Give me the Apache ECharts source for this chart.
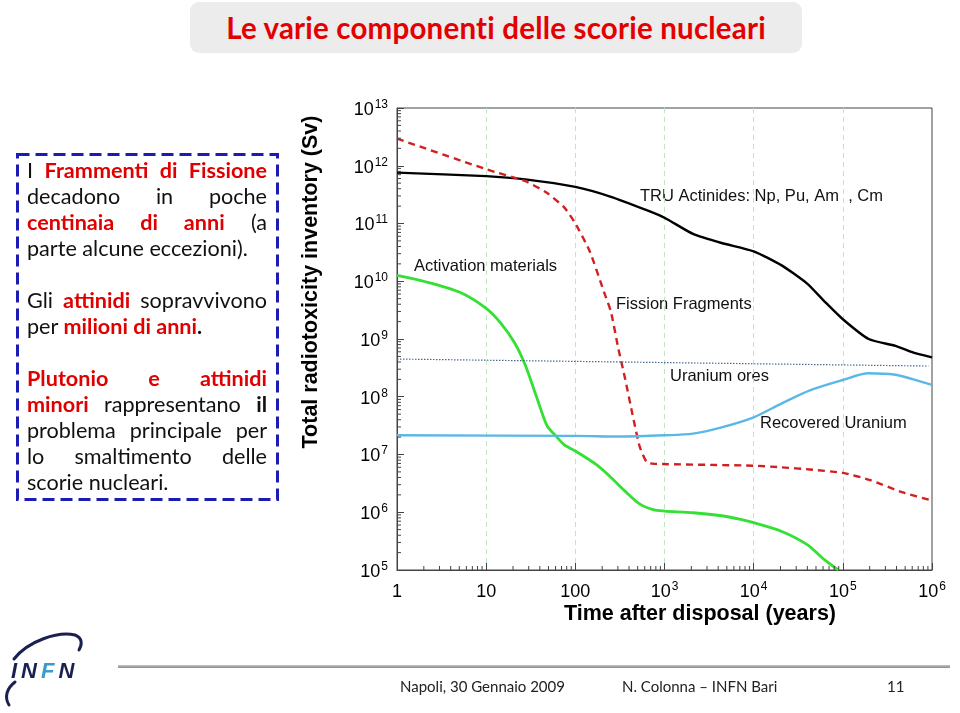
<!DOCTYPE html>
<html><head><meta charset="utf-8">
<script src="https://cdn.jsdelivr.net/npm/echarts@6/dist/echarts.min.js"></script>
<style>
html,body{margin:0;padding:0;background:#fff;width:960px;height:713px;overflow:hidden;}
#chart{position:absolute;left:0;top:0;width:960px;height:713px;}
.ov{position:absolute;font-family:Lato,"Open Sans",sans-serif;}
#title{left:190px;top:2px;width:612px;height:51px;background:#ececec;border-radius:9px;color:#e30000;font-weight:700;font-size:29.5px;line-height:51px;text-align:center;letter-spacing:0.2px;}
#boxframe{left:14px;top:151px;}
#box{left:16px;top:153px;width:262px;height:347px;box-sizing:border-box;padding:4px 11px 0 11px;font-size:21.6px;line-height:26px;color:#111;}
#box .j{text-align:justify;text-align-last:justify;white-space:nowrap;}
#box .l{text-align:left;white-space:nowrap;}
#box .gap{height:26px;}
.r{color:#e00000;font-weight:700;}
#fline{left:118px;top:665px;width:832px;height:3px;background:linear-gradient(#c4c4c4,#8a8a8a);}
.ft{top:676px;font-size:15px;line-height:20px;color:#222;}
#logo{left:0;top:625px;}
</style></head>
<body>
<div id="chart"></div>
<div class="ov" id="title">Le varie componenti delle scorie nucleari</div>
<svg class="ov" id="boxframe" width="268" height="353"><rect x="3.5" y="3.5" width="260" height="345" fill="none" stroke="#1c1cb4" stroke-width="3" stroke-dasharray="12 6"/></svg>
<div class="ov" id="box">
<div class="j">I <span class="r">Frammenti di Fissione</span></div>
<div class="j">decadono in poche</div>
<div class="j"><span class="r">centinaia di anni</span> (a</div>
<div class="l">parte alcune eccezioni).</div>
<div class="gap"></div>
<div class="j">Gli <span class="r">attinidi</span> sopravvivono</div>
<div class="l">per <span class="r">milioni di anni</span><b>.</b></div>
<div class="gap"></div>
<div class="j"><span class="r">Plutonio e attinidi</span></div>
<div class="j"><span class="r">minori</span> rappresentano <b>il</b></div>
<div class="j">problema principale per</div>
<div class="j">lo smaltimento delle</div>
<div class="l">scorie nucleari.</div>
</div>
<div class="ov" id="fline"></div>
<div class="ov ft" style="left:400px">Napoli, 30 Gennaio 2009</div>
<div class="ov ft" style="left:622px">N. Colonna – INFN Bari</div>
<div class="ov ft" style="left:887px">11</div>
<svg class="ov" id="logo" width="100" height="88" viewBox="0 0 100 88">
<path d="M14 34 C 28 16, 58 6, 75 10 C 83 13, 82 20, 79 25" fill="none" stroke="#1a2050" stroke-width="3" stroke-linecap="round"/>
<path d="M15 57 C 7 63, 4 72, 9 80" fill="none" stroke="#1a2050" stroke-width="3" stroke-linecap="round"/>
<text x="11" y="53" font-family="'Liberation Sans', Arial, sans-serif" font-style="italic" font-weight="700" font-size="22" fill="#1a2050" letter-spacing="4">IN<tspan fill="#3a9cc8">F</tspan>N</text>
</svg>
<script>
// ---- data (years, Sv) ----
const truYears = [1, 10, 27.5, 100, 251, 631, 1000, 2090, 4370, 1e4, 2.04e4, 3.98e4, 6.3e4, 1e5, 1.95e5, 3.9e5, 6.2e5, 1e6];
const truSv    = [7.6e11, 6.6e11, 5.8e11, 4.3e11, 2.9e11, 1.7e11, 1.26e11, 6.6e10, 4.6e10, 3.3e10, 1.9e10, 9.1e9, 4.4e9, 2.2e9, 1.0e9, 7.6e8, 5.8e8, 4.8e8];

const ffYears = [1, 10, 27.5, 47.9, 75.9, 100, 145, 209, 251, 302, 363, 437, 525, 631, 759, 1e4, 2.04e4, 4.27e4, 1e5, 2.04e5, 4.7e5, 1e6];
const ffSv    = [2.95e12, 8.7e11, 5.4e11, 3.4e11, 1.86e11, 1.0e11, 3.3e10, 6.6e9, 2.95e9, 7.1e8, 2.0e8, 5.0e7, 1.4e7, 7.4e6, 6.9e6, 6.4e6, 6.0e6, 5.5e6, 4.8e6, 3.6e6, 2.2e6, 1.6e6];

const actYears = [1, 2.09, 5, 10, 14.5, 20.9, 27.5, 36.3, 47.9, 60.3, 75.9, 100, 174, 251, 363, 525, 759, 1000, 2090, 4370, 6920, 1e4, 2.04e4, 3.98e4, 6.3e4, 8.9e4];
const actSv    = [1.26e10, 9.8e9, 6.5e9, 3.4e9, 1.9e9, 8.5e8, 3.5e8, 1.05e8, 3.2e7, 2.1e7, 1.45e7, 1.15e7, 6.6e6, 4.0e6, 2.3e6, 1.4e6, 1.1e6, 1.05e6, 9.8e5, 8.7e5, 7.6e5, 6.6e5, 4.7e5, 2.75e5, 1.48e5, 1.0e5];

const ruYears = [1, 100, 331, 1000, 2090, 4370, 1e4, 2.04e4, 4.27e4, 1e5, 1.95e5, 3.9e5, 6.2e5, 1e6];
const ruSv    = [2.15e7, 2.1e7, 2.05e7, 2.15e7, 2.3e7, 2.95e7, 4.4e7, 7.6e7, 1.29e8, 1.95e8, 2.55e8, 2.4e8, 2.0e8, 1.6e8];

const oreYears = [1, 9.1e5];
const oreSv    = [4.5e8, 3.4e8];

// tick labels: [base, superscript exponent]
const xTickLabels = [['1', ''], ['10', ''], ['100', ''], ['10', '3'], ['10', '4'], ['10', '5'], ['10', '6']];
const yTickExponents = ['5', '6', '7', '8', '9', '10', '11', '12', '13'];
const xDecades = [0, 1, 2, 3, 4, 5];
const yDecades = [5, 6, 7, 8, 9, 10, 11, 12];
const minorMultipliers = [2, 3, 4, 5, 6, 7, 8, 9];

const zip = (a, b) => a.map((v, i) => [v, b[i]]);
const xMinor = [], yMinor = [];
xDecades.forEach(d => minorMultipliers.forEach(m => xMinor.push([m * Math.pow(10, d), 1e5])));
yDecades.forEach(d => minorMultipliers.forEach(m => yMinor.push([1, m * Math.pow(10, d)])));

const axisFont = '"Liberation Sans", Arial, sans-serif';
const rich = {
  b: {fontSize: 18, fontFamily: axisFont, color: '#000', padding: [4, 0, 0, 0]},
  s: {fontSize: 12, fontFamily: axisFont, color: '#000', padding: [0, 0, 7, 1]}
};
const expOf = v => Math.round(Math.log10(v));
const fmtX = v => { const t = xTickLabels[expOf(v)]; return t[1] ? '{b|' + t[0] + '}{s|' + t[1] + '}' : '{b|' + t[0] + '}'; };
const fmtY = v => '{b|10}{s|' + yTickExponents[expOf(v) - 5] + '}';

const chart = echarts.init(document.getElementById('chart'), null, {renderer: 'canvas'});
chart.setOption({
  animation: false,
  grid: {left: 397, top: 108, right: 28, bottom: 143, show: true, borderColor: '#444', borderWidth: 1, backgroundColor: 'transparent'},
  xAxis: {
    type: 'log', logBase: 10, min: 1, max: 1e6,
    axisLine: {lineStyle: {color: '#444', width: 1}},
    axisTick: {inside: true, length: 7, lineStyle: {color: '#444'}},
    axisLabel: {margin: 9, formatter: fmtX, rich: rich},
    splitLine: {show: true, showMinLine: false, showMaxLine: false, lineStyle: {color: '#bfe6bf', type: [5, 4], width: 1}}
  },
  yAxis: {
    type: 'log', logBase: 10, min: 1e5, max: 1e13,
    axisLine: {lineStyle: {color: '#444', width: 1}},
    axisTick: {inside: true, length: 7, lineStyle: {color: '#444'}},
    axisLabel: {margin: 9, formatter: fmtY, rich: rich},
    splitLine: {show: false}
  },
  series: [
    {name: 'TRU Actinides', type: 'line', data: zip(truYears, truSv), showSymbol: false, smooth: 0.2,
     lineStyle: {color: '#000', width: 2.4}},
    {name: 'Fission Fragments', type: 'line', data: zip(ffYears, ffSv), showSymbol: false, smooth: 0.2,
     lineStyle: {color: '#d02020', width: 2.4, type: [7, 5]}},
    {name: 'Activation materials', type: 'line', data: zip(actYears, actSv), showSymbol: false, smooth: 0.25,
     lineStyle: {color: '#33e033', width: 2.8}},
    {name: 'Recovered Uranium', type: 'line', data: zip(ruYears, ruSv), showSymbol: false, smooth: 0.3,
     lineStyle: {color: '#5ab8e6', width: 2.4}},
    {name: 'Uranium ores', type: 'line', data: zip(oreYears, oreSv), showSymbol: false,
     lineStyle: {color: '#4a6890', width: 1.2, type: [1.5, 1.5]}},
    {type: 'custom', data: xMinor, clip: false, silent: true, z: 5,
     renderItem: (params, api) => {
       const p = api.coord([api.value(0), api.value(1)]);
       return {type: 'line', shape: {x1: p[0], y1: p[1], x2: p[0], y2: p[1] - 4}, style: {stroke: '#444', lineWidth: 1}};
     }},
    {type: 'custom', data: yMinor, clip: false, silent: true, z: 5,
     renderItem: (params, api) => {
       const p = api.coord([api.value(0), api.value(1)]);
       return {type: 'line', shape: {x1: p[0], y1: p[1], x2: p[0] + 4, y2: p[1]}, style: {stroke: '#444', lineWidth: 1}};
     }}
  ],
  graphic: [
    {type: 'text', x: 311, y: 282, rotation: Math.PI / 2, style: {text: 'Total radiotoxicity inventory (Sv)', font: 'bold 21.5px ' + axisFont, fill: '#000', textAlign: 'center', textVerticalAlign: 'middle'}},
    {type: 'text', x: 700, y: 614, style: {text: 'Time after disposal (years)', font: 'bold 21.5px ' + axisFont, fill: '#000', textAlign: 'center', textVerticalAlign: 'middle'}},
    {type: 'text', x: 640, y: 196, style: {text: 'TRU Actinides: Np, Pu, Am  , Cm', font: '16.5px ' + axisFont, fill: '#111', textAlign: 'left', textVerticalAlign: 'middle'}},
    {type: 'text', x: 414, y: 266, style: {text: 'Activation materials', font: '16.5px ' + axisFont, fill: '#111', textAlign: 'left', textVerticalAlign: 'middle'}},
    {type: 'text', x: 616, y: 304, style: {text: 'Fission Fragments', font: '16.5px ' + axisFont, fill: '#111', textAlign: 'left', textVerticalAlign: 'middle'}},
    {type: 'text', x: 670, y: 376, style: {text: 'Uranium ores', font: '16.5px ' + axisFont, fill: '#111', textAlign: 'left', textVerticalAlign: 'middle'}},
    {type: 'text', x: 760, y: 423, style: {text: 'Recovered Uranium', font: '16.5px ' + axisFont, fill: '#111', textAlign: 'left', textVerticalAlign: 'middle'}}
  ]
});
</script>
</body></html>
